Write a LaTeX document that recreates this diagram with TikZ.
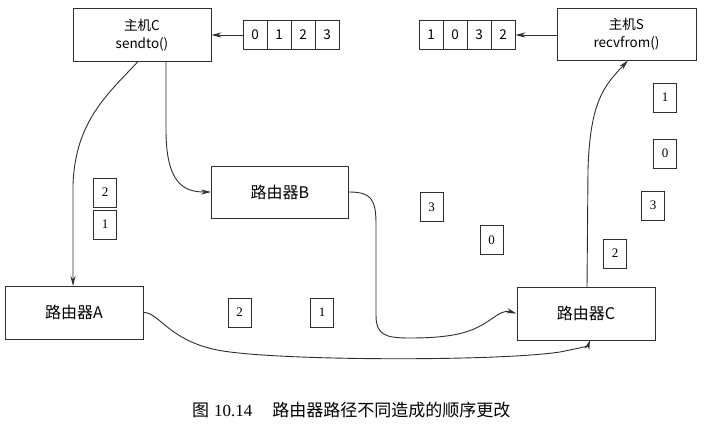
\documentclass[tikz,border=0pt]{standalone}
\usepackage{fontspec}
\setmainfont{Liberation Serif}
\newfontfamily\cjk{Noto Sans CJK SC}
\usetikzlibrary{arrows.meta}
\definecolor{ink}{HTML}{2E2E2E}
\tikzset{
  hostbox/.style={draw=ink, line width=0.9pt, minimum width=138pt, minimum height=53pt, align=center, font=\cjk\fontsize{13.5}{17}\selectfont, inner sep=0pt},
  routerbox/.style={draw=ink, line width=0.9pt, minimum width=137pt, minimum height=52pt, font=\cjk\fontsize{16}{18}\selectfont, inner sep=0pt},
  cell/.style={draw=ink, line width=0.9pt, minimum width=24pt, minimum height=29pt, inner sep=0pt, font=\cjk\fontsize{13.5}{15}\selectfont},
  pkt/.style={draw=ink, line width=0.8pt, minimum width=23pt, minimum height=29pt, inner sep=0pt, font=\fontsize{13}{15}\selectfont},
  conn/.style={draw=ink, line width=0.9pt, -{Stealth[length=10pt,width=5pt]}},
}
\begin{document}
\begin{tikzpicture}[x=1pt,y=-1pt]
\useasboundingbox (0,0) rectangle (704,425);
% hosts
\node[hostbox] (hostC) at (142,35) {主机C\\[1pt]sendto()};
\node[hostbox, minimum width=139pt, minimum height=52pt] (hostS) at (626.5,34) {主机S\\[1pt]recvfrom()};
% arrays
\node[cell] (c0) at (255,35) {0};
\node[cell] (c1) at (279,35) {1};
\node[cell] (c2) at (303,35) {2};
\node[cell] (c3) at (327,35) {3};
\node[cell] (s0) at (431,35) {1};
\node[cell] (s1) at (455,35) {0};
\node[cell] (s2) at (479,35) {3};
\node[cell] (s3) at (503,35) {2};
% routers
\node[routerbox] (rB) at (280,192) {路由器B};
\node[routerbox, minimum width=138pt, minimum height=53pt] (rA) at (74,312.5) {路由器A};
\node[routerbox, minimum width=138pt, minimum height=53pt] (rC) at (586,313.5) {路由器C};
% packets
\node[pkt] (pa2) at (105,192.5) {2};
\node[pkt] (pa1) at (105,224.5) {1};
\node[pkt] (pb2) at (239.5,312.5) {2};
\node[pkt] (pb1) at (322,312.5) {1};
\node[pkt] (pc3) at (431.5,207) {3};
\node[pkt] (pc0) at (491.5,240) {0};
\node[pkt] (pd3) at (653,205.5) {3};
\node[pkt] (pd2) at (615,253.5) {2};
\node[pkt] (pe1) at (665,97.5) {1};
\node[pkt] (pe0) at (665,153.5) {0};
% array arrows
\draw[conn] (c0.west) -- (hostC.east |- c0.west);
\draw[conn] (hostS.west |- s3.east) -- (s3.east);
% coordinates
\coordinate (cBstart) at (166,61.5);
\coordinate (cAstart) at (138,61.5);
\coordinate (rAtop) at (73,286);
\coordinate (rCbot) at (590,340);
\coordinate (rCtop) at (587,287);
\coordinate (hSbot) at (628,60.5);
% connectors
\draw[conn] (cBstart) -- (166,130) .. controls (166,185) and (185,192) .. (rB.west);
\draw[conn] (cAstart) .. controls (110,92) and (75,120) .. (73,185) -- (rAtop);
\draw[conn] (rB.east) .. controls (372,192) and (376,200) .. (376,225) -- (376,315)
  .. controls (376,335) and (385,338) .. (410,338)
  .. controls (460,338) and (475,330) .. (490,320)
  .. controls (500,313) and (505,310) .. (rC.west);
\draw[conn] (rA.east) .. controls (160,312) and (170,345) .. (230,352)
  .. controls (300,361) and (500,361) .. (560,352)
  .. controls (580,348) and (588,346) .. (rCbot);
\draw[conn] (rCtop) -- (588,170) .. controls (590,100) and (605,85) .. (hSbot);
% caption
\node[font=\fontsize{17}{19}\selectfont, anchor=west, inner sep=0pt] (cap) at (192,410) {{\cjk 图}\hspace{5pt}10.14\hspace{20pt}{\cjk 路由器路径不同造成的顺序更改}};
\end{tikzpicture}
\end{document}
